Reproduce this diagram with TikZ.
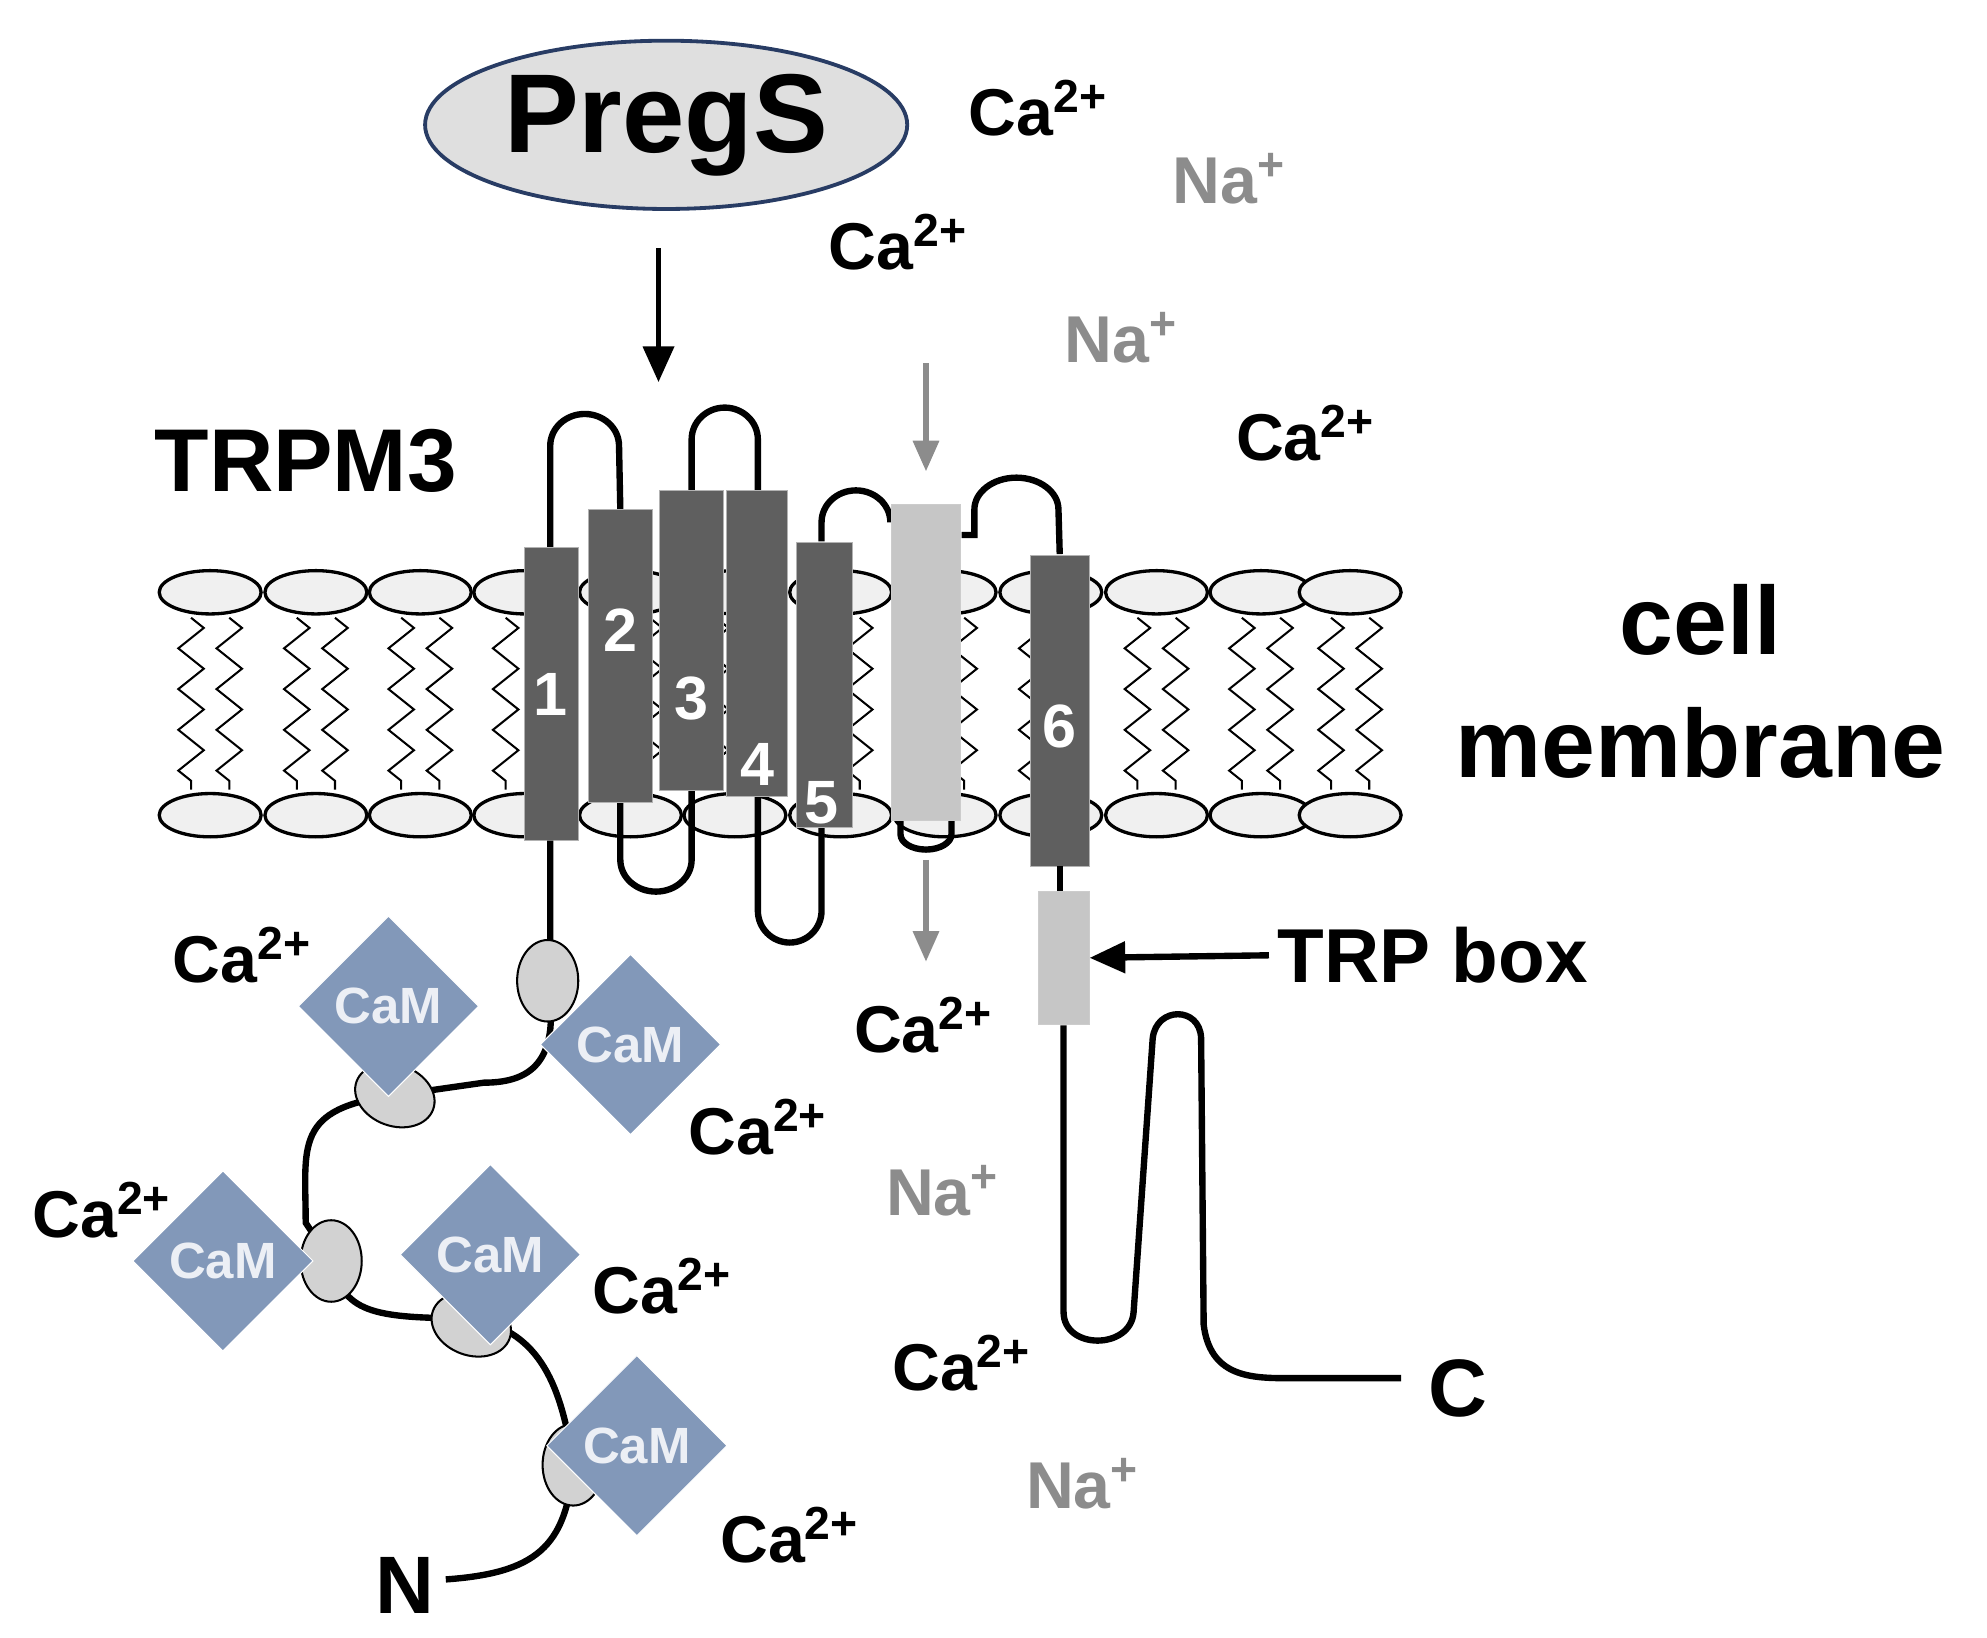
\documentclass[tikz,border=0pt]{standalone}
\usepackage{fontspec}
\setmainfont{Liberation Sans}
\usetikzlibrary{decorations.pathmorphing,arrows.meta,shapes.geometric}
\definecolor{helix}{RGB}{95,95,95}
\definecolor{camblue}{RGB}{130,152,185}
\definecolor{nagray}{RGB}{140,140,140}
\begin{document}
\begin{tikzpicture}[x=0.5pt,y=-0.5pt,
 ca/.style={font=\fontsize{26}{26}\selectfont\bfseries},
 na/.style={font=\fontsize{26}{26}\selectfont\bfseries,text=nagray},
 head/.style={draw,line width=1.3pt,fill=gray!12,ellipse,minimum width=40pt,minimum height=17pt,inner sep=0},
 hx/.style={draw=gray!60,fill=helix},
 lp/.style={line width=2.5pt},
 cam/.style={fill=camblue,draw=white,minimum size=50pt,rotate=45,inner sep=0},
 dom/.style={draw,thick,fill=gray!35,ellipse,minimum width=24pt,minimum height=32pt,inner sep=0},
 num/.style={text=white,font=\fontsize{24}{24}\selectfont\bfseries}]
\useasboundingbox (0,0) rectangle (1560,1286);
% membrane
\foreach \x in {165,248,330,412,495,577,660,742,825,908,990,1060}{
 \foreach \d in {-15,15}{
  \draw[thick,decorate,decoration={zigzag,segment length=16pt,amplitude=5pt}] (\x+\d,485) -- (\x+\d,620);}
 \node[head] at (\x,465) {};
 \node[head] at (\x,640) {};}
% loops
\draw[lp] (432,430) -- (432,350) arc[start angle=180,end angle=360,x radius=27,y radius=25] -- (487,400);
\draw[lp] (487,630) -- (487,675) arc[start angle=180,end angle=0,x radius=28,y radius=25] -- (543,620);
\draw[lp] (543,385) -- (543,345) arc[start angle=180,end angle=360,x radius=26,y radius=25] -- (595,385);
\draw[lp] (595,625) -- (595,715) arc[start angle=180,end angle=0,x radius=25,y radius=25] -- (645,650);
\draw[lp] (645,425) -- (645,410) arc[start angle=180,end angle=360,x radius=27,y radius=25] -- (700,400);
\draw[lp] (707,640) -- (707,655) arc[start angle=180,end angle=0,x radius=20,y radius=12] -- (747,640);
\draw[lp] (755,420) -- (765,420) -- (765,400) arc[start angle=180,end angle=360,x radius=33,y radius=25] -- (832,435);
% helices
\node[hx,minimum width=21pt,minimum height=115pt] (h1) at (433,545) {};
\node[hx,minimum width=25pt,minimum height=115pt] (h2) at (487,515) {};
\node[hx,minimum width=25pt,minimum height=118pt] (h3) at (543,503) {};
\node[hx,minimum width=24pt,minimum height=120pt] (h4) at (594,505) {};
\node[hx,minimum width=22pt,minimum height=112pt] (h5) at (647,538) {};
\node[draw=gray!40,fill=gray!45,minimum width=27pt,minimum height=124pt] (pore) at (727,520) {};
\node[hx,minimum width=23pt,minimum height=122pt] (h6) at (832,558) {};
\node[num] at (432,545) {1};
\node[num] at (487,495) {2};
\node[num] at (543,548) {3};
\node[num] at (595,600) {4};
\node[num] at (645,630) {5};
\node[num] at (832,570) {6};
% PregS
\node[draw={rgb,255:red,40;green,60;blue,100},line width=1.5pt,fill=gray!25,ellipse,minimum width=160pt,minimum height=55pt] (preg) at (523,98) {\fontsize{44}{44}\selectfont\bfseries PregS};
\coordinate (pa) at (517,300);
\draw[line width=2pt,-{Triangle[length=14pt,width=12pt]}] (517,195) -- (pa);
\node[font=\fontsize{35}{35}\selectfont\bfseries] (trpm) at (240,362) {TRPM3};
\node[font=\fontsize{38}{38}\selectfont\bfseries] (cell) at (1335,487) {cell};
\node[font=\fontsize{38}{38}\selectfont\bfseries] (memb) at (1335,583) {membrane};
% gray arrows
\draw[line width=2pt,nagray,-{Triangle[length=12pt,width=10pt]}] (727,285) -- (727,370);
\draw[line width=2pt,nagray,-{Triangle[length=12pt,width=10pt]}] (727,675) -- (727,755);
% TRP box & C-term
\draw[lp] (832,680) -- (832,700);
\node[draw=gray!40,fill=gray!45,minimum width=20pt,minimum height=52pt,inner sep=0] (box) at (835,752) {};
\node[font=\fontsize{30}{30}\selectfont\bfseries] (trpl) at (1125,750) {TRP box};
\draw[line width=2.5pt,-{Triangle[length=14pt,width=12pt]}] (trpl.west) -- (box.east);
\draw[lp] (835,805) -- (835,1030) .. controls (835,1060) and (888,1060) .. (890,1030) -- (905,815) .. controls (908,790) and (942,790) .. (943,815) -- (945,1040) .. controls (950,1080) and (980,1082) .. (1010,1082) -- (1100,1082);
\node[font=\fontsize{32}{32}\selectfont\bfseries] (C) at (1145,1090) {C};
% N-term chain
\draw[lp] (432,660) -- (432,740) -- (430,770) .. controls (440,830) and (420,850) .. (380,850) -- (310,860) .. controls (230,870) and (240,900) .. (240,960) -- (260,990) .. controls (270,1030) and (290,1035) .. (370,1035) .. controls (420,1045) and (440,1080) .. (450,1150) .. controls (445,1215) and (420,1235) .. (350,1240);
\node[font=\fontsize{32}{32}\selectfont\bfseries] (N) at (318,1245) {N};
\node[dom] at (430,770) {};
\node[dom,rotate=70] at (310,860) {};
\node[dom] at (260,990) {};
\node[dom,rotate=70] at (370,1040) {};
\node[dom] at (450,1150) {};
\foreach \p in {(305,790),(495,820),(175,990),(385,985),(500,1135)}{
 \node[cam] at \p {};
 \node[text=white!85!camblue,font=\fontsize{20}{20}\selectfont\bfseries] at \p {CaM};}
% ions
\foreach \p in {(815,85),(705,190),(1025,340),(190,750),(595,885),(80,950),(520,1010),(725,805),(755,1070),(620,1205)}
 \node[ca] at \p {Ca\textsuperscript{2+}};
\foreach \p in {(965,140),(880,265),(740,935),(850,1165)}
 \node[na] at \p {Na\textsuperscript{+}};
\end{tikzpicture}
\end{document}
